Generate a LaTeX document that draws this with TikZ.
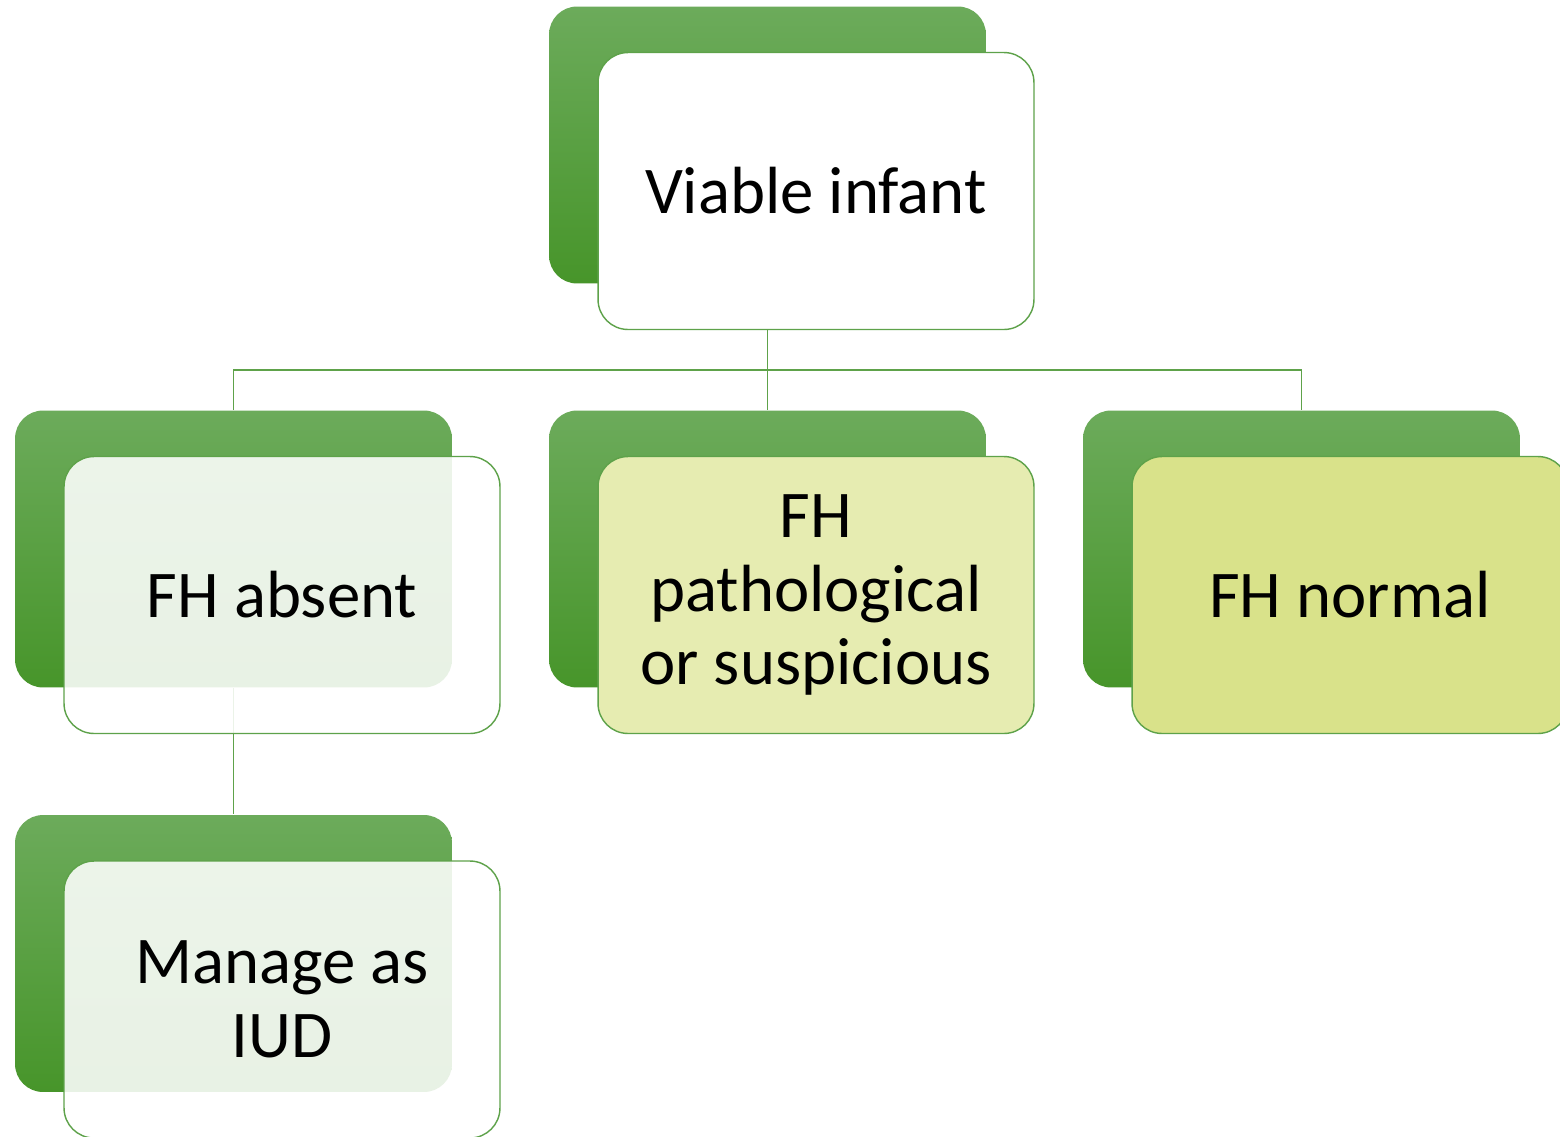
\documentclass[tikz,border=0pt]{standalone}
\usepackage{fontspec}
\setmainfont{Carlito}
\usepackage{tikz}
\usetikzlibrary{positioning}
\definecolor{leafTop}{HTML}{6CAB5B}
\definecolor{leafBot}{HTML}{47952A}
\definecolor{edgeGreen}{HTML}{5EA24A}
\definecolor{paleLime}{HTML}{E6ECB1}
\definecolor{lime}{HTML}{D9E28A}

\begin{document}
\begin{tikzpicture}[x=0.02cm,y=-0.02cm,line width=0.8pt,
  back/.style={rectangle,rounded corners=0.56cm,minimum width=8.74cm,minimum height=5.54cm,
    inner sep=0pt,top color=leafTop,bottom color=leafBot,draw=none},
  card/.style={rectangle,rounded corners=0.6cm,minimum width=8.72cm,minimum height=5.54cm,
    inner sep=0pt,draw=edgeGreen,align=center,font=\fontsize{38}{42}\selectfont},
  link/.style={draw=edgeGreen}]
\clip (0,0) rectangle (1560,1137);
\useasboundingbox (0,0) rectangle (1560,1137);
\fill[white] (0,0) rectangle (1560,1137);

% back plates
\node[back] (vb) at (767.5,145) {};
\node[back] (ab) at (233.5,549) {};
\node[back] (pb) at (767.5,549) {};
\node[back] (nb) at (1301.5,549) {};
\node[back] (ib) at (233.5,953.5) {};

% connectors
\path[link] (vb.south) -- (767.5,370) coordinate (hub);
\draw[link] (vb.south) -- (hub) -| (ab.north);
\draw[link] (hub) -- (pb.north);
\draw[link] (hub) -| (nb.north);
\draw[link] (ab.south) -- (ib.north);

% cards
\node[card,fill=white] (viable) at ([shift={(48.5,46)}]vb) {Viable infant};
\node[card,fill=white,fill opacity=0.88,text opacity=1] (absent) at ([shift={(48.5,46)}]ab) {FH absent};
\node[card,fill=paleLime] (patho) at ([shift={(48.5,46)}]pb) {FH\\pathological\\or suspicious};
\node[card,fill=lime] (normal) at ([shift={(48.5,46)}]nb) {FH normal};
\node[card,fill=white,fill opacity=0.88,text opacity=1] (iud) at ([shift={(48.5,46)}]ib) {Manage as\\IUD};
\end{tikzpicture}
\end{document}
